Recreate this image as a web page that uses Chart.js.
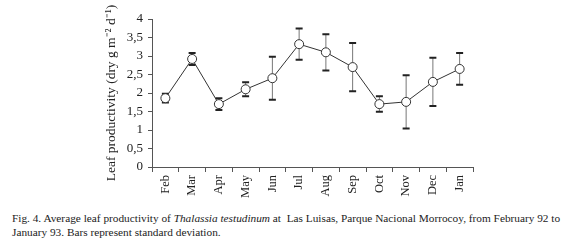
<!DOCTYPE html>
<html>
<head>
<meta charset="utf-8">
<script src="https://cdn.jsdelivr.net/npm/chart.js@4/dist/chart.umd.min.js"></script>
<style>
  html, body { margin: 0; padding: 0; background: #fff; }
  #wrap { position: absolute; left: 0; top: 0; width: 580px; height: 205px; }
  #caption { position: absolute; left: 12px; top: 211px; width: 568px; white-space: nowrap;
    font-family: "Liberation Serif", "Times New Roman", serif; font-size: 11.3px; line-height: 14px; color: #222; }
</style>
</head>
<body>
<div id="wrap"><canvas id="c" width="580" height="205"></canvas></div>
<div id="caption">Fig. 4. Average leaf productivity of <i>Thalassia testudinum</i> at&nbsp; Las Luisas, Parque Nacional Morrocoy, from February 92 to<br>January 93. Bars represent standard deviation.</div>
<script>
const months = ['Feb','Mar','Apr','May','Jun','Jul','Aug','Sep','Oct','Nov','Dec','Jan'];
const productivity = [1.86, 2.92, 1.70, 2.10, 2.40, 3.32, 3.10, 2.70, 1.70, 1.76, 2.30, 2.65];
const stdDev = [0.12, 0.16, 0.16, 0.19, 0.58, 0.42, 0.49, 0.65, 0.21, 0.72, 0.65, 0.43];
const yTickStep = 0.5;

const errorBars = {
  id: 'errorBars',
  beforeDatasetsDraw(chart) {
    const ctx = chart.ctx;
    const meta = chart.getDatasetMeta(0);
    const y = chart.scales.y;
    ctx.save();
    meta.data.forEach((pt, i) => {
      const x = pt.x;
      const yTop = y.getPixelForValue(productivity[i] + stdDev[i]);
      const yBot = y.getPixelForValue(productivity[i] - stdDev[i]);
      ctx.strokeStyle = '#777';
      ctx.lineWidth = 1;
      ctx.beginPath();
      ctx.moveTo(x, yTop); ctx.lineTo(x, yBot);
      ctx.stroke();
      ctx.strokeStyle = '#222';
      ctx.lineWidth = 2;
      ctx.beginPath();
      ctx.moveTo(x - 3.5, yTop); ctx.lineTo(x + 3.5, yTop);
      ctx.moveTo(x - 3.5, yBot); ctx.lineTo(x + 3.5, yBot);
      ctx.stroke();
    });
    ctx.restore();
  }
};

new Chart(document.getElementById('c'), {
  type: 'line',
  data: {
    labels: months,
    datasets: [{
      data: productivity,
      borderColor: '#333',
      borderWidth: 1,
      pointRadius: 4.5,
      pointBackgroundColor: '#fff',
      pointBorderColor: '#333',
      pointBorderWidth: 1,
      tension: 0
    }]
  },
  options: {
    responsive: false,
    animation: false,
    devicePixelRatio: 1,
    layout: { padding: { left: 103, top: 19, right: 107, bottom: 0 } },
    plugins: { legend: { display: false }, tooltip: { enabled: false } },
    scales: {
      x: {
        type: 'category',
        offset: true,
        afterFit(s) { s.height = 205 - 167; },
        grid: { drawOnChartArea: false, offset: true, tickLength: 5, color: '#555' },
        border: { color: '#555', width: 1 },
        ticks: { minRotation: 90, maxRotation: 90, padding: 3, color: '#222', autoSkip: false,
          font: { family: 'Liberation Serif', size: 12.5 } }
      },
      y: {
        min: 0, max: 4,
        afterFit(s) { s.width = 49; },
        grid: { drawOnChartArea: false, tickLength: 4, color: '#555' },
        border: { color: '#555', width: 1 },
        ticks: { stepSize: yTickStep, autoSkip: false, padding: 5, color: '#222',
          font: { family: 'Liberation Serif', size: 13 },
          callback: v => String(v).replace('.', ',') },
        title: { display: true, text: 'Leaf productivity (dry g m\u207B\u00B2 d\u207B\u00B9)',
          color: '#222', padding: { top: 0, bottom: 0 },
          font: { family: 'Liberation Serif', size: 13.5, lineHeight: 1.2 } }
      }
    }
  },
  plugins: [errorBars]
});
</script>
</body>
</html>
